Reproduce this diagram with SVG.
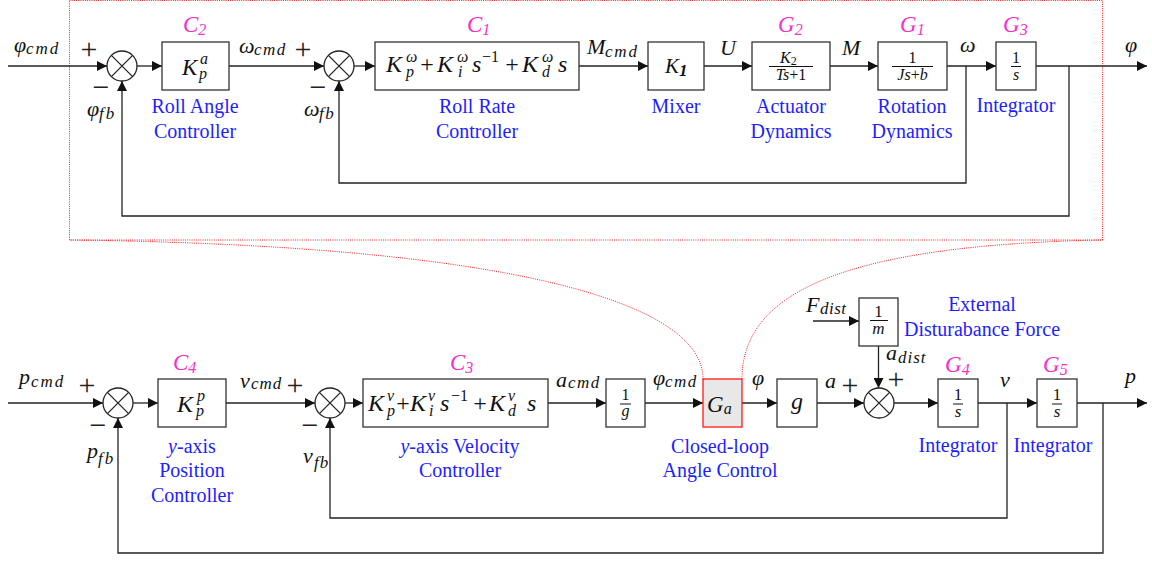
<svg xmlns="http://www.w3.org/2000/svg" width="1152" height="561" viewBox="0 0 1152 561">
<style>
.box{fill:none;stroke:#333;stroke-width:1.3}
.sum{fill:none;stroke:#222;stroke-width:1.3}
.wire{fill:none;stroke:#222;stroke-width:1.3}
.m{font-family:"Liberation Serif",serif;font-style:italic;fill:#111}
.r{font-family:"Liberation Serif",serif;fill:#111}
.blue{font-family:"Liberation Serif",serif;font-size:20px;fill:#1e1eff;text-anchor:middle}
.mag{font-family:"Liberation Serif",serif;font-style:italic;font-size:23px;fill:#f72fc9}
.pm{font-family:"Liberation Serif",serif;font-size:30px;fill:#222;text-anchor:middle}
.frac{stroke:#111;stroke-width:1}
.red{fill:none;stroke:#ff2020;stroke-width:1;stroke-dasharray:1 1.2}
</style>
<defs>
<marker id="arr" viewBox="0 0 10 10" refX="10" refY="5" markerWidth="10" markerHeight="10" markerUnits="userSpaceOnUse" orient="auto"><path d="M0,0 L10,5 L0,10 z" fill="#111"/></marker>
</defs>

<g id="panel">
<rect x="69.5" y="0.5" width="1033" height="239.5" fill="#e9e9e9" class="red"/>
<path class="red" d="M703,379 C703,300 500,245 69,240"/>
<path class="red" d="M742,379 C742,290 850,245 1103,240"/>
</g>

<g id="connectors" class="wire" marker-end="url(#arr)">
<path d="M8,66 H107"/>
<path d="M137,66 H162"/>
<path d="M229,66 H324"/>
<path d="M354,66 H375"/>
<path d="M579,66 H648"/>
<path d="M704,66 H752"/>
<path d="M830,66 H878"/>
<path d="M947,66 H996"/>
<path d="M1036,66 H1147"/>
<path d="M966,66 V183 H339 V81"/>
<path d="M1069,66 V216 H122 V81"/>
<path d="M8,403 H103"/>
<path d="M133,403 H158"/>
<path d="M226,403 H315"/>
<path d="M345,403 H363"/>
<path d="M548,403 H606"/>
<path d="M645,403 H703"/>
<path d="M742,403 H777"/>
<path d="M817,403 H864"/>
<path d="M894,403 H938"/>
<path d="M978,403 H1037"/>
<path d="M1077,403 H1147"/>
<path d="M1007,403 V518 H330 V418"/>
<path d="M1103,403 V553 H118 V418"/>
<path d="M813,321 H859"/>
<path d="M878.5,346 V388"/>
</g>

<!-- top row -->
<g id="sum1"><circle class="sum" cx="122" cy="66" r="15"/><path class="sum" d="M111.4,55.4 L132.6,76.6 M132.6,55.4 L111.4,76.6"/></g>
<g id="sum2"><circle class="sum" cx="339" cy="66" r="15"/><path class="sum" d="M328.4,55.4 L349.6,76.6 M349.6,55.4 L328.4,76.6"/></g>

<g id="C2">
<rect class="box" x="162" y="42" width="67" height="48"/>
<text class="m" x="182" y="75" font-size="23">K</text>
<text class="m" x="200" y="64" font-size="16">a</text>
<text class="m" x="199" y="79" font-size="16">p</text>
<text class="mag" x="183" y="32">C<tspan font-size="16" dy="3">2</tspan></text>
<text class="blue" x="195" y="113">Roll Angle</text>
<text class="blue" x="195" y="138">Controller</text>
</g>

<g id="C1">
<rect class="box" x="375" y="42" width="204" height="48"/>
<text class="m" x="386" y="72" font-size="24">K</text>
<text class="m" x="406" y="62" font-size="16">ω</text>
<text class="m" x="406" y="77" font-size="16">p</text>
<text class="r" x="427" y="72" font-size="24" text-anchor="middle">+</text>
<text class="m" x="437" y="72" font-size="24">K</text>
<text class="m" x="457" y="62" font-size="16">ω</text>
<text class="m" x="458" y="77" font-size="16">i</text>
<text class="m" x="472" y="72" font-size="24">s</text>
<text class="r" x="482" y="62" font-size="16">−1</text>
<text class="r" x="512" y="72" font-size="24" text-anchor="middle">+</text>
<text class="m" x="522" y="72" font-size="24">K</text>
<text class="m" x="542" y="62" font-size="16">ω</text>
<text class="m" x="542" y="77" font-size="16">d</text>
<text class="m" x="558" y="72" font-size="24">s</text>
<text class="mag" x="467" y="32">C<tspan font-size="16" dy="3">1</tspan></text>
<text class="blue" x="477" y="113">Roll Rate</text>
<text class="blue" x="477" y="138">Controller</text>
</g>

<g id="K1">
<rect class="box" x="648" y="42" width="56" height="48"/>
<text class="m" x="665" y="73" font-size="21">K<tspan font-size="17" font-weight="bold" dy="3">1</tspan></text>
<text class="blue" x="676" y="113">Mixer</text>
</g>

<g id="G2">
<rect class="box" x="752" y="42" width="78" height="48"/>
<text class="m" x="780" y="63" font-size="16">K<tspan class="r" font-style="normal" font-size="12" dy="2">2</tspan></text>
<line class="frac" x1="769" y1="66.5" x2="813" y2="66.5"/>
<text class="m" x="791" y="80" font-size="16" text-anchor="middle">Ts<tspan font-style="normal">+1</tspan></text>
<text class="mag" x="778" y="32">G<tspan font-size="16" dy="3">2</tspan></text>
<text class="blue" x="791" y="113">Actuator</text>
<text class="blue" x="791" y="138">Dynamics</text>
</g>

<g id="G1">
<rect class="box" x="878" y="42" width="69" height="48"/>
<text class="r" x="912.5" y="63" font-size="16" text-anchor="middle">1</text>
<line class="frac" x1="892" y1="66.5" x2="933" y2="66.5"/>
<text class="m" x="912.5" y="80" font-size="16" text-anchor="middle">Js<tspan font-style="normal">+</tspan>b</text>
<text class="mag" x="900" y="32">G<tspan font-size="16" dy="3">1</tspan></text>
<text class="blue" x="912" y="113">Rotation</text>
<text class="blue" x="912" y="138">Dynamics</text>
</g>

<g id="G3">
<rect class="box" x="996" y="42" width="40" height="48"/>
<text class="r" x="1016" y="63" font-size="16" text-anchor="middle">1</text>
<line class="frac" x1="1011" y1="66.5" x2="1021" y2="66.5"/>
<text class="m" x="1016" y="80" font-size="16" text-anchor="middle">s</text>
<text class="mag" x="1003" y="32">G<tspan font-size="16" dy="3">3</tspan></text>
<text class="blue" x="1016" y="112">Integrator</text>
</g>

<g id="top-labels">
<text class="m" x="14" y="52" font-size="22">φ<tspan x="26" y="54" font-size="17" letter-spacing="2">cmd</tspan></text>
<text class="m" x="239" y="53" font-size="22">ω<tspan x="254" y="55" font-size="17" letter-spacing="1.5">cmd</tspan></text>
<text class="m" x="87" y="116" font-size="22">φ<tspan x="99" y="119" font-size="17" letter-spacing="2">fb</tspan></text>
<text class="m" x="304" y="116" font-size="22">ω<tspan x="319" y="119" font-size="17" letter-spacing="1.5">fb</tspan></text>
<text class="m" x="587" y="54" font-size="22">M<tspan x="605" y="57" font-size="17" letter-spacing="1.8">cmd</tspan></text>
<text class="m" x="720" y="55" font-size="22">U</text>
<text class="m" x="842" y="55" font-size="22">M</text>
<text class="m" x="960" y="52" font-size="22">ω</text>
<text class="m" x="1125" y="52" font-size="22">φ</text>
<text class="pm" x="89" y="58.5">+</text>
<text class="pm" x="101" y="96.5">−</text>
<text class="pm" x="303" y="58.5">+</text>
<text class="pm" x="318" y="96.5">−</text>
</g>

<!-- bottom row -->
<g id="sum3"><circle class="sum" cx="118" cy="403" r="15"/><path class="sum" d="M107.4,392.4 L128.6,413.6 M128.6,392.4 L107.4,413.6"/></g>
<g id="sum4"><circle class="sum" cx="330" cy="403" r="15"/><path class="sum" d="M319.4,392.4 L340.6,413.6 M340.6,392.4 L319.4,413.6"/></g>
<g id="sum5"><circle class="sum" cx="879" cy="403" r="15"/><path class="sum" d="M868.4,392.4 L889.6,413.6 M889.6,392.4 L868.4,413.6"/></g>

<g id="C4">
<rect class="box" x="158" y="379" width="68" height="48"/>
<text class="m" x="177" y="412" font-size="24">K</text>
<text class="m" x="197" y="401" font-size="16">p</text>
<text class="m" x="196" y="416" font-size="16">p</text>
<text class="mag" x="173" y="370">C<tspan font-size="16" dy="3">4</tspan></text>
<text class="blue" x="192" y="453"><tspan font-style="italic">y</tspan>-axis</text>
<text class="blue" x="192" y="477">Position</text>
<text class="blue" x="192" y="502">Controller</text>
</g>

<g id="C3">
<rect class="box" x="363" y="379" width="185" height="48"/>
<text class="m" x="368" y="411" font-size="24">K</text>
<text class="m" x="387" y="401" font-size="16">v</text>
<text class="m" x="387" y="416" font-size="16">p</text>
<text class="r" x="403" y="411" font-size="24" text-anchor="middle">+</text>
<text class="m" x="410" y="411" font-size="24">K</text>
<text class="m" x="428" y="401" font-size="16">v</text>
<text class="m" x="429" y="416" font-size="16">i</text>
<text class="m" x="440" y="411" font-size="24">s</text>
<text class="r" x="451" y="401" font-size="16">−1</text>
<text class="r" x="480" y="411" font-size="24" text-anchor="middle">+</text>
<text class="m" x="489" y="411" font-size="24">K</text>
<text class="m" x="508" y="401" font-size="16">v</text>
<text class="m" x="508" y="416" font-size="16">d</text>
<text class="m" x="527" y="411" font-size="24">s</text>
<text class="mag" x="450" y="370">C<tspan font-size="16" dy="3">3</tspan></text>
<text class="blue" x="460" y="453"><tspan font-style="italic">y</tspan>-axis Velocity</text>
<text class="blue" x="460" y="477">Controller</text>
</g>

<g id="invg">
<rect class="box" x="606" y="379" width="39" height="48"/>
<text class="r" x="625.5" y="400" font-size="16" text-anchor="middle">1</text>
<line class="frac" x1="620" y1="404" x2="631" y2="404"/>
<text class="m" x="625.5" y="416" font-size="16" text-anchor="middle">g</text>
</g>

<g id="Ga">
<rect x="703" y="379" width="39" height="48" fill="#e8e8e8" stroke="#ff1a1a" stroke-width="1.3"/>
<text class="m" x="707" y="412" font-size="23">G<tspan font-size="16" dy="2">a</tspan></text>
<text class="blue" x="720" y="453">Closed-loop</text>
<text class="blue" x="720" y="477">Angle Control</text>
</g>

<g id="gain-g">
<rect class="box" x="777" y="379" width="40" height="48"/>
<text class="m" x="797" y="409" font-size="24" text-anchor="middle">g</text>
</g>

<g id="invm">
<rect class="box" x="859" y="298" width="39" height="48"/>
<text class="r" x="878.5" y="317" font-size="17" text-anchor="middle">1</text>
<line class="frac" x1="870" y1="320.5" x2="888" y2="320.5"/>
<text class="m" x="878.5" y="334" font-size="17" text-anchor="middle">m</text>
<text class="blue" x="982" y="311">External</text>
<text class="blue" x="982" y="336">Disturabance Force</text>
</g>

<g id="G4">
<rect class="box" x="938" y="379" width="40" height="48"/>
<text class="r" x="958" y="400" font-size="17" text-anchor="middle">1</text>
<line class="frac" x1="953" y1="404" x2="963" y2="404"/>
<text class="m" x="958" y="417" font-size="17" text-anchor="middle">s</text>
<text class="mag" x="945" y="372">G<tspan font-size="16" dy="3">4</tspan></text>
<text class="blue" x="958" y="452">Integrator</text>
</g>

<g id="G5">
<rect class="box" x="1037" y="379" width="40" height="48"/>
<text class="r" x="1057" y="400" font-size="17" text-anchor="middle">1</text>
<line class="frac" x1="1052" y1="404" x2="1062" y2="404"/>
<text class="m" x="1057" y="417" font-size="17" text-anchor="middle">s</text>
<text class="mag" x="1043" y="372">G<tspan font-size="16" dy="3">5</tspan></text>
<text class="blue" x="1053" y="452">Integrator</text>
</g>

<g id="bottom-labels">
<text class="m" x="19" y="384" font-size="22">p<tspan x="31" y="387" font-size="17" letter-spacing="2">cmd</tspan></text>
<text class="m" x="240" y="388" font-size="22">v<tspan x="251" y="389" font-size="17" letter-spacing="1">cmd</tspan></text>
<text class="m" x="87" y="458" font-size="22">p<tspan x="98" y="464" font-size="17" letter-spacing="2">fb</tspan></text>
<text class="m" x="303" y="463" font-size="22">v<tspan x="314" y="468" font-size="17" letter-spacing="1">fb</tspan></text>
<text class="m" x="556" y="387" font-size="22">a<tspan x="568" y="388" font-size="17" letter-spacing="1.5">cmd</tspan></text>
<text class="m" x="653" y="385" font-size="22">φ<tspan x="665" y="387" font-size="17" letter-spacing="1.5">cmd</tspan></text>
<text class="m" x="752" y="385" font-size="22">φ</text>
<text class="m" x="825" y="388" font-size="22">a</text>
<text class="m" x="806" y="312" font-size="22">F<tspan x="820" y="314" font-size="17" letter-spacing="0.5">dist</tspan></text>
<text class="m" x="886" y="360" font-size="22">a<tspan x="898" y="363" font-size="17" letter-spacing="1">dist</tspan></text>
<text class="m" x="1000" y="387" font-size="22">v</text>
<text class="m" x="1125" y="383" font-size="22">p</text>
<text class="pm" x="87" y="394.5">+</text>
<text class="pm" x="98" y="434.5">−</text>
<text class="pm" x="295" y="394.5">+</text>
<text class="pm" x="310" y="434.5">−</text>
<text class="pm" x="850" y="394.5">+</text>
<text class="pm" x="896" y="388.5">+</text>
</g>
</svg>
